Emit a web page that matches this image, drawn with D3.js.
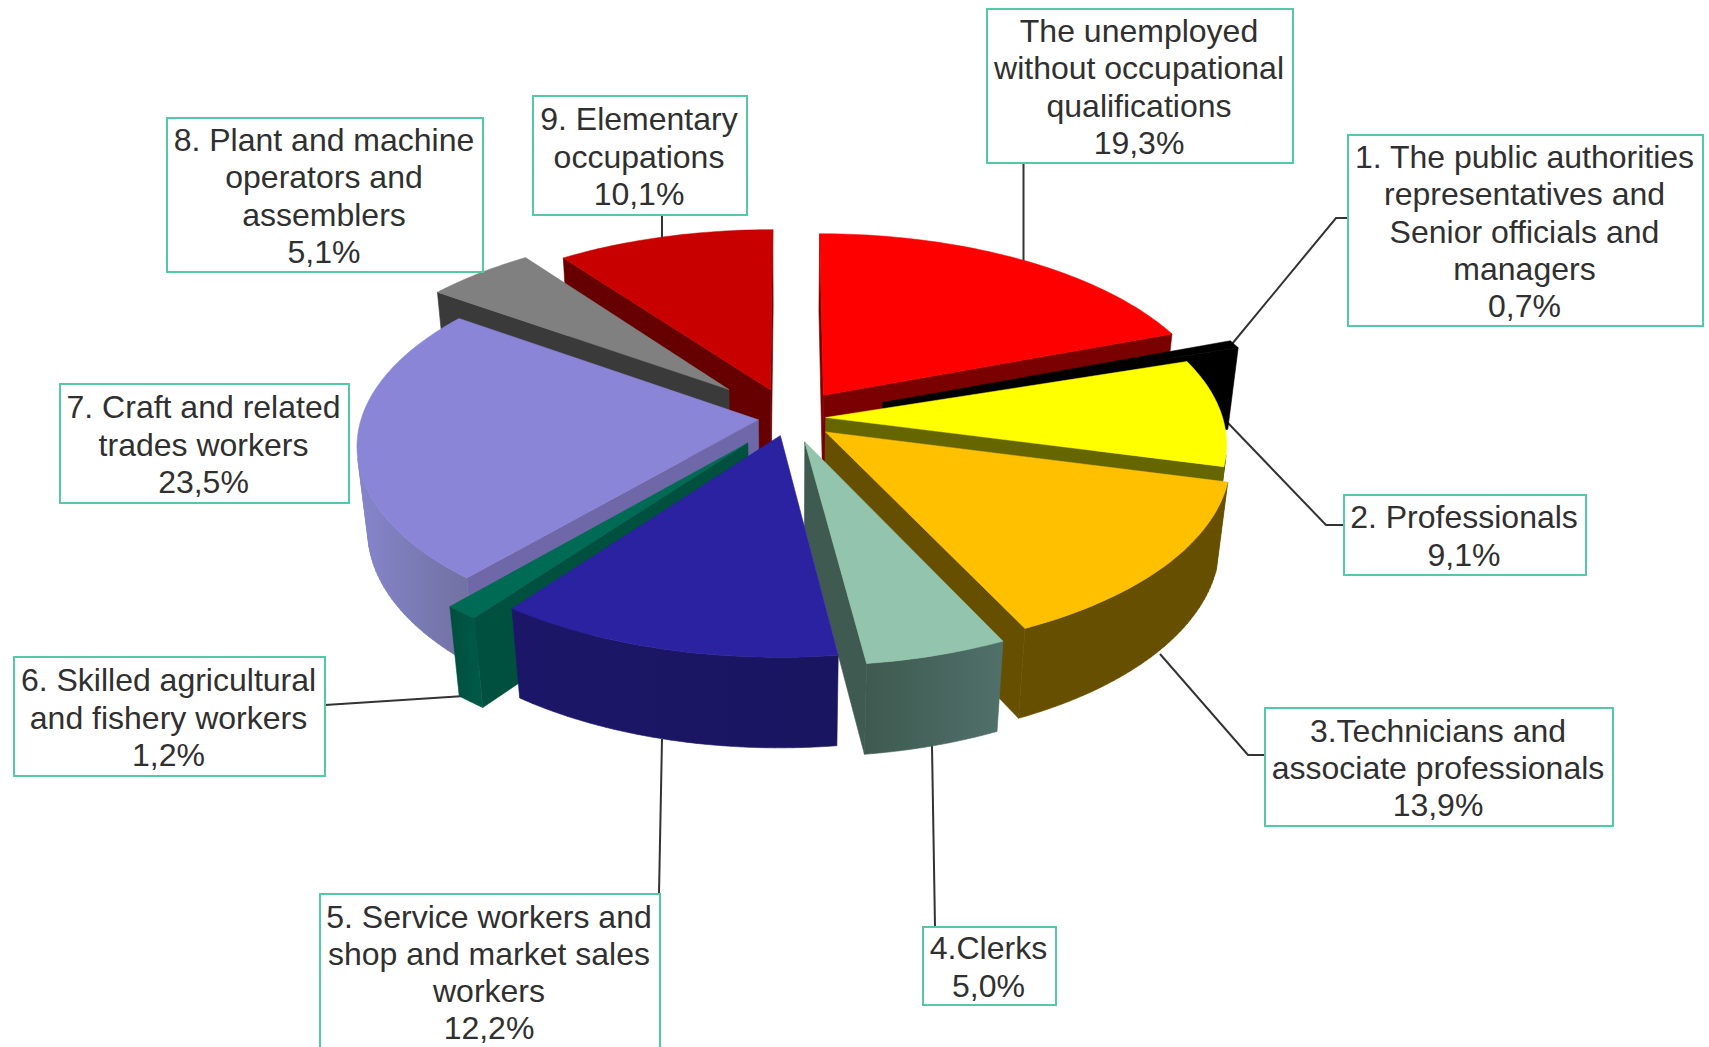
<!DOCTYPE html>
<html>
<head>
<meta charset="utf-8">
<script src="https://cdn.jsdelivr.net/npm/d3@7"></script>
<style>
html,body{margin:0;padding:0;background:#fff;overflow:hidden}
svg{display:block}
text{font-family:"Liberation Sans",Arial,sans-serif;font-size:32px;fill:#303030}
</style>
</head>
<body>
<svg id="c" width="1709" height="1047"></svg>
<script>
// ---- data, in pie order (clockwise from 12 o'clock) ----
const categories = [
  ["The unemployed","without occupational","qualifications"],
  ["1. The public authorities","representatives and","Senior officials and","managers"],
  ["2. Professionals"],
  ["3.Technicians and","associate professionals"],
  ["4.Clerks"],
  ["5. Service workers and","shop and market sales","workers"],
  ["6. Skilled agricultural","and fishery workers"],
  ["7. Craft and related","trades workers"],
  ["8. Plant and machine","operators and","assemblers"],
  ["9. Elementary","occupations"]
];
const values = [19.3,0.7,9.1,13.9,5.0,12.2,1.2,23.5,5.1,10.1];
const explode = [0.15,0.25,0.09,0.115,0.13,0.095,0.167,0.08,0.22,0.16];

// ---- styles ----
const topColors   = ["#fe0000","#000000","#ffff00","#ffc000","#93c4ae","#2a22a0","#006b55","#8a85d6","#808080","#c80000"];
const radialColors= ["#7a0000","#000000","#666600","#665000","#3f5a50","#1a1565","#005040","#6f68a8","#3a3a3a","#660000"];
const rimFrom     = ["#7a0000","#000000","#666600","#665000","#3e5a50","#1c1668","#004f3e","#8585cc","#3a3a3a","#660000"];
const rimTo       = ["#7a0000","#000000","#666600","#665000","#50706a","#1a1560","#005a48","#70709f","#3a3a3a","#660000"];

// ---- label layout: [x, y, width, height] and leader polylines ----
const boxes = [
  [987,9,306,154],[1348,135,355,191],[1344,495,242,80],[1265,708,348,118],[923,927,133,78],
  [320,894,340,166],[14,657,311,119],[60,384,289,119],[167,118,316,154],[533,96,214,119]
];
const leaders = [
  [[1023.5,163],[1023.5,262]],
  [[1348,218],[1336,218],[1232,344]],
  [[1344,525],[1326,525],[1228,423]],
  [[1265,755],[1248,755],[1160,654]],
  [[935,927],[932,746]],
  [[659,894],[662,739]],
  [[325,705],[480,695]],
  [],
  [],
  [[662,215],[662,240]]
];

// ---- projection parameters ----
const cx=790, cy=418, R=397, K=188, H=86, P=0.13, Q=0.025, lineH=37.1;
const sx=d3.scaleLinear().domain([0,1]).range([0,R]);
const sy=d3.scaleLinear().domain([0,1]).range([0,K]);
function project(X,Y,z){
  const s=1/(1-P*Y+Q*z);
  return [cx+sx(X)*s, cy+(sy(Y)+z*H)*s];
}
const lineGen=d3.line();

const svg=d3.select("#c");
const defs=svg.append("defs");
const arcs=d3.pie().sort(null).value(d=>d)(values);

const slices=arcs.map((a,i)=>{
  const mid=(a.startAngle+a.endAngle)/2, e=explode[i];
  const ox=e*Math.sin(mid), oy=-e*Math.cos(mid);
  const pt=(r,t,z)=>project(ox+r*Math.sin(t),oy-r*Math.cos(t),z);
  return {i,a,mid,pt,order:-Math.cos(mid)};
}).sort((p,q)=>p.order-q.order);

// leaders sit behind the pie
svg.append("g").selectAll("path").data(leaders.filter(l=>l.length)).join("path")
  .attr("d",d=>lineGen(d)).attr("fill","none").attr("stroke","#333").attr("stroke-width",2);

const pieG=svg.append("g");
slices.forEach(sl=>{
  const {i,a,pt}=sl;
  const g=pieG.append("g");
  const n=Math.max(4,Math.ceil((a.endAngle-a.startAngle)/0.02));
  const ts=d3.range(n+1).map(j=>a.startAngle+(a.endAngle-a.startAngle)*j/n);
  const gid="rim"+i;
  const lg=defs.append("linearGradient").attr("id",gid);
  lg.append("stop").attr("offset","0%").attr("stop-color",rimFrom[i]);
  lg.append("stop").attr("offset","100%").attr("stop-color",rimTo[i]);

  // radial walls: apex->rim on start, rim->apex on end; keep those facing the viewer
  const wall=(p,q)=>[p(0),q(0),q(1),p(1)];
  const apex=z=>pt(0,0,z), r0=z=>pt(1,a.startAngle,z), r1=z=>pt(1,a.endAngle,z);
  [wall(apex,r0),wall(r1,apex)].forEach(w=>{
    if(d3.polygonArea(w)>0) g.append("path").attr("d",lineGen(w)+"Z")
      .attr("fill",radialColors[i]).attr("stroke",radialColors[i]).attr("stroke-width",0.6);
  });
  // outer rim
  let rim="";
  for(let j=0;j<n;j++){
    const q=wall(z=>pt(1,ts[j],z),z=>pt(1,ts[j+1],z));
    if(d3.polygonArea(q)>0) rim+=lineGen(q)+"Z";
  }
  if(rim) g.append("path").attr("d",rim).attr("fill","url(#"+gid+")")
     .attr("stroke","url(#"+gid+")").attr("stroke-width",0.6);
  // top face
  const face=[pt(0,0,0)].concat(ts.map(t=>pt(1,t,0)));
  g.append("path").attr("d",lineGen(face)+"Z").attr("fill",topColors[i])
    .attr("stroke",topColors[i]).attr("stroke-width",0.5);
});

// labels
const fmt=v=>d3.format(".1f")(v).replace(".",",")+"%";
const lab=svg.append("g").selectAll("g").data(categories).join("g");
lab.append("rect")
  .attr("x",(d,i)=>boxes[i][0]).attr("y",(d,i)=>boxes[i][1])
  .attr("width",(d,i)=>boxes[i][2]).attr("height",(d,i)=>boxes[i][3])
  .attr("fill","#fff").attr("stroke","#55c9a6").attr("stroke-width",2);
lab.each(function(d,i){
  const lines=d.concat([fmt(values[i])]), b=boxes[i];
  const first=(i===5?894+3.5:b[1]+(b[3]-lines.length*lineH)/2)+lineH/2+1;
  d3.select(this).selectAll("text").data(lines).join("text")
    .attr("x",b[0]+b[2]/2-1).attr("y",(l,j)=>first+j*lineH)
    .attr("text-anchor","middle").attr("dominant-baseline","central")
    .text(l=>l);
});
</script>
</body>
</html>
